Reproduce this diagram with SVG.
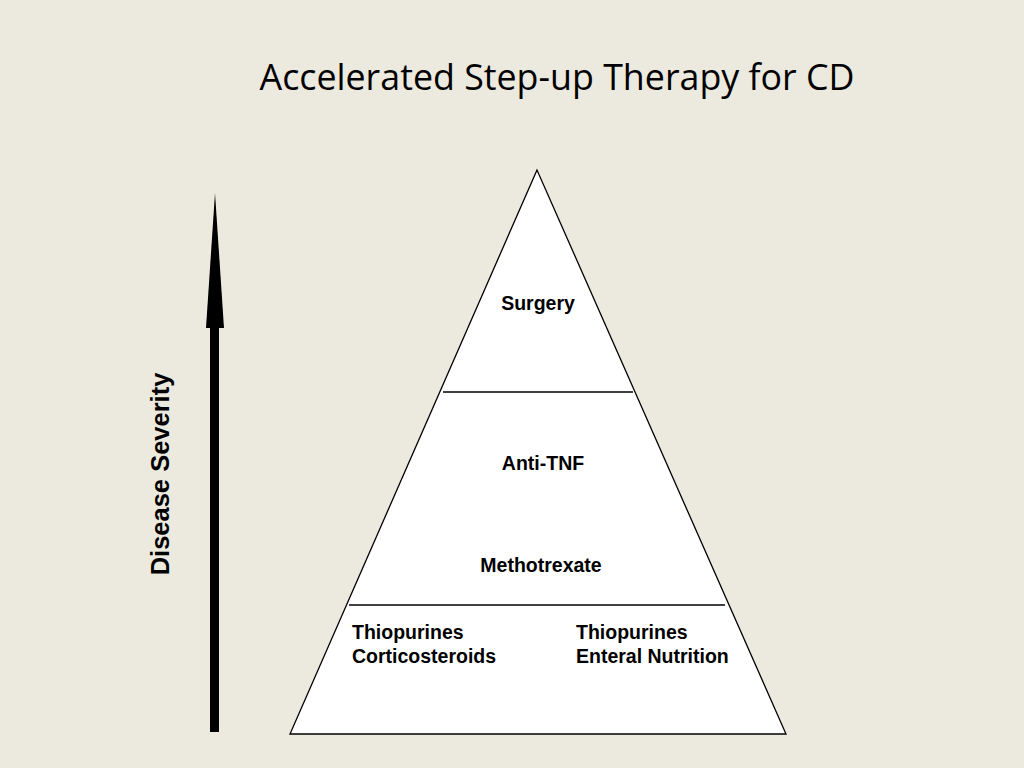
<svg xmlns="http://www.w3.org/2000/svg" width="1024" height="768" viewBox="0 0 1024 768">
<style>
.lbl{font-family:"Liberation Sans",Arial,sans-serif;font-weight:bold;font-size:19.5px;fill:#000}
.line{stroke:#000;stroke-width:1.4;fill:none}
</style>
<rect width="1024" height="768" fill="#ECE9DF"/>
<text x="557" y="90" text-anchor="middle" font-family="'Open Sans','Noto Sans',sans-serif" font-size="36" textLength="595" lengthAdjust="spacingAndGlyphs" fill="#000">Accelerated Step-up Therapy for CD</text>
<g id="pyramid">
<polygon points="537,170 290,734 786,734" fill="#fff" stroke="#000" stroke-width="1.3"/>
</g>
<g id="connectors">
<line class="line" x1="443" y1="392" x2="633" y2="392"/>
<line class="line" x1="349" y1="605" x2="725" y2="605"/>
</g>
<g id="surgery"><text class="lbl" x="538" y="310" text-anchor="middle">Surgery</text></g>
<g id="antitnf"><text class="lbl" x="543" y="470" text-anchor="middle">Anti-TNF</text></g>
<g id="methotrexate"><text class="lbl" x="541" y="572" text-anchor="middle">Methotrexate</text></g>
<g id="left-base"><text class="lbl" x="352" y="639">Thiopurines</text><text class="lbl" x="352" y="663">Corticosteroids</text></g>
<g id="right-base"><text class="lbl" x="576" y="639">Thiopurines</text><text class="lbl" x="576" y="663">Enteral Nutrition</text></g>
<g id="severity-arrow">
<rect x="210" y="326" width="9" height="406" fill="#000"/>
<polygon points="215,193 224,328 206,328" fill="#000"/>
<text transform="translate(169,474) rotate(-90)" text-anchor="middle" font-family="'Liberation Sans',Arial,sans-serif" font-weight="bold" font-size="25.5" fill="#000">Disease Severity</text>
</g>
</svg>
